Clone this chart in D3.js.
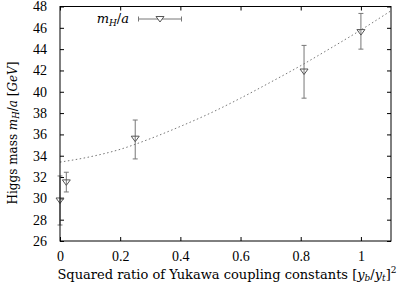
<!DOCTYPE html>
<html><head><meta charset="utf-8">
<script src="https://cdn.jsdelivr.net/npm/d3@7"></script>
<style>
body{margin:0;background:#fff;}
</style></head><body>
<svg id="c" width="405" height="287"></svg>
<script>
// data
const xVals   = [0, 0.021, 0.25, 0.811, 1.0];
const yVals   = [29.8, 31.5, 35.6, 41.9, 45.6];
const yLow    = [27.5, 30.6, 33.7, 39.4, 44.0];
const yHigh   = [32.1, 32.45, 37.35, 44.35, 47.35];
const fitX    = [0, 0.1, 0.2, 0.3, 0.4, 0.5, 0.6, 0.7, 0.8, 0.9, 1.0, 1.1];
const fitY    = [33.4, 33.9, 34.6, 35.6, 36.75, 38.0, 39.4, 40.9, 42.45, 44.1, 45.8, 47.6];
const xTicks  = [0, 0.2, 0.4, 0.6, 0.8, 1];
const yTicks  = [26, 28, 30, 32, 34, 36, 38, 40, 42, 44, 46, 48];

const svg = d3.select("#c");
const L = 60, R = 391, T = 6.5, B = 241;
const x = d3.scaleLinear().domain([0, 1.1]).range([L, R]);
const y = d3.scaleLinear().domain([26, 48]).range([B, T]);
const fs = 14;
const tickFont = "'Liberation Serif', serif";
const lab = "'DejaVu Serif', serif";

// axes with inward ticks
const tl = 4;
svg.append("g").attr("transform", `translate(0,${B})`)
  .call(d3.axisBottom(x).tickValues(xTicks).tickSize(-tl).tickPadding(8).tickFormat(d3.format("")))
  .call(g => { g.select(".domain").remove(); g.selectAll("text").style("font-size", fs + "px").style("font-family", tickFont).attr("dy", "0.85em"); });
svg.append("g").attr("transform", `translate(0,${T})`)
  .call(d3.axisTop(x).tickValues(xTicks).tickSize(-tl).tickFormat(""))
  .call(g => g.select(".domain").remove());
svg.append("g").attr("transform", `translate(${L},0)`)
  .call(d3.axisLeft(y).tickValues(yTicks).tickSize(-tl).tickPadding(13).tickFormat(d3.format("")))
  .call(g => { g.select(".domain").remove(); g.selectAll("text").style("font-size", fs + "px").style("font-family", tickFont); });
svg.append("g").attr("transform", `translate(${R},0)`)
  .call(d3.axisRight(y).tickValues(yTicks).tickSize(-tl).tickFormat(""))
  .call(g => g.select(".domain").remove());

// fit curve
svg.append("path")
  .datum(fitX.map((d, i) => [d, fitY[i]]))
  .attr("fill", "none").attr("stroke", "#777").attr("stroke-width", 1)
  .attr("stroke-dasharray", "1.5,2.5")
  .attr("d", d3.line().x(d => x(d[0])).y(d => y(d[1])).curve(d3.curveMonotoneX));

// error bars
const eb = svg.append("g").attr("stroke", "#777").attr("stroke-width", 1).attr("fill", "none");
const cw = 2.5;
xVals.forEach((xv, i) => {
  const px = x(xv);
  eb.append("line").attr("x1", px).attr("x2", px).attr("y1", y(yLow[i])).attr("y2", y(yHigh[i]));
  eb.append("line").attr("x1", px - cw).attr("x2", px + cw).attr("y1", y(yLow[i])).attr("y2", y(yLow[i]));
  eb.append("line").attr("x1", px - cw).attr("x2", px + cw).attr("y1", y(yHigh[i])).attr("y2", y(yHigh[i]));
});
// triangle markers
const tri = (cx, cy) => `M${cx - 4},${cy - 2.5}L${cx + 4},${cy - 2.5}L${cx},${cy + 3}Z`;
svg.append("g").selectAll("path").data(xVals).join("path")
  .attr("d", (d, i) => tri(x(d), y(yVals[i])))
  .attr("fill", "none").attr("stroke", "#555").attr("stroke-width", 1);

// frame
svg.append("rect").attr("x", L).attr("y", T).attr("width", R - L).attr("height", B - T)
  .attr("fill", "none").attr("stroke", "#000").attr("stroke-width", 1);

// legend
const lg = svg.append("g");
const lt = lg.append("text").attr("x", 129).attr("y", 23).attr("text-anchor", "end").style("font-size", "13px").style("font-family", lab);
lt.append("tspan").attr("font-style", "italic").text("m");
lt.append("tspan").attr("font-style", "italic").style("font-size", "9px").attr("dy", 3).text("H");
lt.append("tspan").attr("dy", -3).text("/");
lt.append("tspan").attr("font-style", "italic").text("a");
lg.append("line").attr("x1", 138.5).attr("x2", 181.5).attr("y1", 19).attr("y2", 19).attr("stroke", "#777");
lg.append("line").attr("x1", 138.5).attr("x2", 138.5).attr("y1", 16.5).attr("y2", 21.5).attr("stroke", "#777");
lg.append("line").attr("x1", 181.5).attr("x2", 181.5).attr("y1", 16.5).attr("y2", 21.5).attr("stroke", "#777");
lg.append("path").attr("d", tri(160, 19)).attr("fill", "#fff").attr("stroke", "#555");

// x label
const xl = svg.append("text").attr("x", 227).attr("y", 279).attr("text-anchor", "middle").style("font-size", "13px").style("font-family", lab);
xl.append("tspan").text("Squared ratio of Yukawa coupling constants [");
xl.append("tspan").attr("font-style", "italic").text("y");
xl.append("tspan").attr("font-style", "italic").style("font-size", "9px").attr("dy", 2).text("b");
xl.append("tspan").attr("dy", -2).text("/");
xl.append("tspan").attr("font-style", "italic").text("y");
xl.append("tspan").attr("font-style", "italic").style("font-size", "9px").attr("dy", 2).text("t");
xl.append("tspan").attr("dy", -2).text("]");
xl.append("tspan").style("font-size", "9px").attr("dy", -6).text("2");

// y label
const yl = svg.append("text").attr("transform", "translate(17,133) rotate(-90)").attr("text-anchor", "middle").style("font-size", "12px").style("font-family", lab);
yl.append("tspan").text("Higgs mass ");
yl.append("tspan").attr("font-style", "italic").text("m");
yl.append("tspan").attr("font-style", "italic").style("font-size", "8.5px").attr("dy", 2).text("H");
yl.append("tspan").attr("dy", -2).text("/");
yl.append("tspan").attr("font-style", "italic").text("a");
yl.append("tspan").text(" [");
yl.append("tspan").attr("font-style", "italic").text("GeV");
yl.append("tspan").text("]");
</script>
</body></html>
